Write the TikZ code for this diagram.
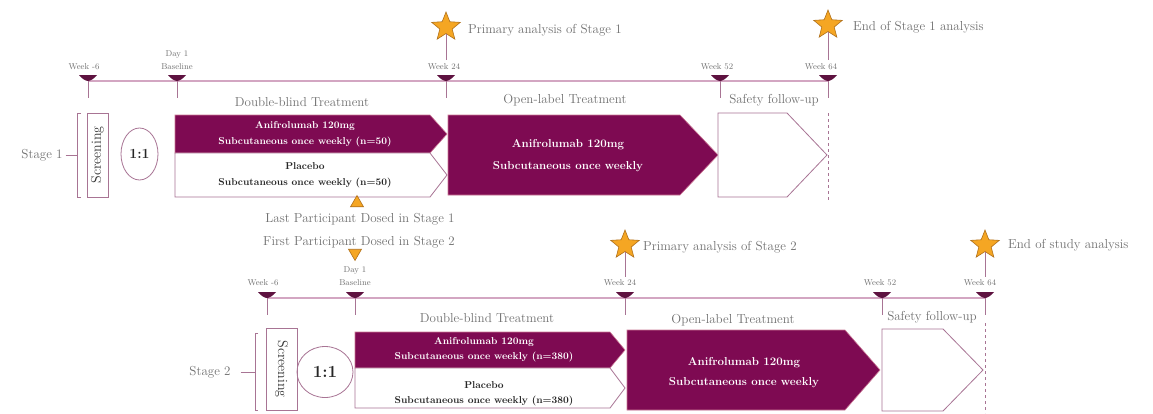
\documentclass[tikz,border=0pt]{standalone}
\usetikzlibrary{shapes.geometric}
\definecolor{plum}{HTML}{7E0A52}
\definecolor{tl}{HTML}{D3A6C2}
\definecolor{outl}{HTML}{A87494}
\definecolor{mk}{HTML}{5E1240}
\definecolor{gtxt}{HTML}{707070}
\definecolor{starf}{HTML}{F5A623}
\definecolor{stard}{HTML}{B0701A}
\begin{document}
\begin{tikzpicture}[x=1pt,y=-1pt,
  lbl/.style={text=gtxt,font=\fontsize{13}{15}\selectfont,inner sep=0pt},
  wk/.style={text=gtxt,font=\fontsize{8.5}{13}\selectfont,inner sep=0pt,align=center},
  fillbox/.style={fill=plum,draw=plum!40!pink,line width=0.6pt},
  whitebox/.style={fill=white,draw=outl,line width=0.8pt},
  wtxt/.style={text=white,font=\bfseries\fontsize{10}{16}\selectfont,align=center,inner sep=0pt},
  btxt/.style={text=black!85,font=\bfseries\fontsize{10}{16}\selectfont,align=center,inner sep=0pt},
  otxt/.style={text=white,font=\bfseries\fontsize{11.5}{22}\selectfont,align=center,inner sep=0pt},
  tline/.style={draw=tl,line width=1.5pt},
  tick/.style={draw=outl,line width=1pt},
  pics/tmk/.style={code={\fill[mk] (-9,-6) -- (9,-6) .. controls (6,-2) and (2,0) .. (0,0) .. controls (-2,0) and (-6,-2) .. (-9,-6) -- cycle;}},
  starnode/.style={star,star points=5,star point ratio=2.3,minimum size=30pt,inner sep=0pt,fill=starf,draw=stard,line width=0.6pt},
  otri/.style={regular polygon,regular polygon sides=3,minimum size=15pt,inner sep=0pt,fill=starf,draw=stard,line width=0.6pt},
  scr/.style={draw=outl,line width=0.8pt,fill=white,text=black!80,font=\fontsize{14}{16}\selectfont,inner sep=0pt},
  ratio/.style={ellipse,draw=outl,line width=0.8pt,inner sep=0pt,text=black!85}
]
\useasboundingbox[fill=white] (0,0) rectangle (1153,413);

% ================= STAGE 1 =================
\coordinate (a1) at (88,81);
\coordinate (a2) at (177,81);
\coordinate (a3) at (446,81);
\coordinate (a4) at (720,81);
\coordinate (a5) at (828,81);
\draw[tline] (a1) -- (a5);
\foreach \c in {a1,a2,a3,a4,a5}{\draw[tick] (\c) -- ++(0,17); \pic at (\c) {tmk};}
\node[wk] (la1) at (84,67) {Week -6};
\node[wk] (la2) at (177,60) {Day 1\\Baseline};
\node[wk] (la3) at (444,67) {Week 24};
\node[wk] (la4) at (717,67) {Week 52};
\node[wk] (la5) at (821,67) {Week 64};

\node[starnode] (s1) at (446,27) {};
\draw[tick] (s1.south) -- (446,60);
\node[lbl,anchor=west] (t1) at (468,30) {Primary analysis of Stage 1};
\node[starnode] (s2) at (828,25) {};
\draw[tick] (s2.south) -- (828,60);
\node[lbl,anchor=west] (t2) at (853,27) {End of Stage 1 analysis};

\node[lbl] (p1) at (302,102) {Double-blind Treatment};
\node[lbl] (p2) at (565,100) {Open-label Treatment};
\node[lbl] (p3) at (774,100) {Safety follow-up};

\draw[tick,dashed,dash pattern=on 3pt off 3pt] (828,113) -- (828,201);

% bracket and label
\node[lbl] (st1) at (42,155) {Stage 1};
\draw[tick] (81,113) -- (77,113) -- (77,197) -- (81,197);
\coordinate (b1) at (77,155);
\draw[tick] (st1.east) ++(3,0) -- (b1);
\node[scr,rotate=90,minimum width=84pt,minimum height=21pt] (scr1) at (97.5,155) {Screening};
\node[ratio,minimum width=37pt,minimum height=52pt,font=\bfseries\fontsize{14}{16}\selectfont] (r1) at (139.5,154) {1:1};

% boxes
\path[fillbox] (175,115) -- (430,115) -- (447,134) -- (430,153) -- (175,153) -- cycle;
\path[whitebox] (175,153) -- (430,153) -- (447,175) -- (430,197) -- (175,197) -- cycle;
\path[fillbox] (448,115) -- (680,115) -- (718,155) -- (680,195) -- (448,195) -- cycle;
\path[whitebox] (718,113) -- (787,113) -- (827,155) -- (787,197) -- (718,197) -- cycle;
\node[wtxt] (x1) at (305,134) {Anifrolumab 120mg\\Subcutaneous once weekly (n=50)};
\node[btxt] (x2) at (305,175) {Placebo\\Subcutaneous once weekly (n=50)};
\node[otxt] (x3) at (568,156) {Anifrolumab 120mg\\Subcutaneous once weekly};

% transition
\node[otri] (o1) at (357,203) {};
\node[lbl] (tr1) at (360,219) {Last Participant Dosed in Stage 1};
\node[lbl] (tr2) at (359,242) {First Participant Dosed in Stage 2};
\node[otri,shape border rotate=180] (o2) at (355,253) {};

% ================= STAGE 2 =================
\coordinate (c1) at (267,298);
\coordinate (c2) at (355,298);
\coordinate (c3) at (625,298);
\coordinate (c4) at (882,298);
\coordinate (c5) at (985,298);
\draw[tline] (c1) -- (c5);
\foreach \c in {c1,c2,c3,c4,c5}{\draw[tick] (\c) -- ++(0,17); \pic at (\c) {tmk};}
\node[wk] (lc1) at (263,283) {Week -6};
\node[wk] (lc2) at (355,276) {Day 1\\Baseline};
\node[wk] (lc3) at (620,283) {Week 24};
\node[wk] (lc4) at (880,283) {Week 52};
\node[wk] (lc5) at (980,283) {Week 64};

\node[starnode] (s3) at (625,245) {};
\draw[tick] (s3.south) -- (625,277);
\node[lbl,anchor=west] (t3) at (643,247) {Primary analysis of Stage 2};
\node[starnode] (s4) at (985,245) {};
\draw[tick] (s4.south) -- (985,277);
\node[lbl,anchor=west] (t4) at (1008,245) {End of study analysis};

\node[lbl] (q1) at (487,318) {Double-blind Treatment};
\node[lbl] (q2) at (733,320) {Open-label Treatment};
\node[lbl] (q3) at (932,317) {Safety follow-up};

\draw[tick,dashed,dash pattern=on 3pt off 3pt] (985,323) -- (985,413);

\node[lbl] (st2) at (210,372) {Stage 2};
\draw[tick] (258,333) -- (255,333) -- (255,410) -- (258,410);
\coordinate (b2) at (255,372);
\draw[tick] (st2.east) ++(10,0) -- (b2);
\node[scr,rotate=-90,minimum width=82pt,minimum height=31pt] (scr2) at (281.5,369) {Screening};
\node[ratio,minimum width=56pt,minimum height=51pt,font=\bfseries\fontsize{17}{19}\selectfont] (r2) at (325,372) {1:1};

\path[fillbox] (355,332) -- (610,332) -- (625,350) -- (610,368) -- (355,368) -- cycle;
\path[whitebox] (355,368) -- (610,368) -- (625,388) -- (610,408) -- (355,408) -- cycle;
\path[fillbox] (627,330) -- (845,330) -- (880,370) -- (845,410) -- (627,410) -- cycle;
\path[whitebox] (882,329) -- (943,329) -- (983,370) -- (943,411) -- (882,411) -- cycle;
\node[wtxt,font=\bfseries\fontsize{10}{15}\selectfont] (y1) at (484,350) {Anifrolumab 120mg\\Subcutaneous once weekly (n=380)};
\node[btxt,font=\bfseries\fontsize{10}{15}\selectfont] (y2) at (484,394) {Placebo\\Subcutaneous once weekly (n=380)};
\node[otxt,font=\bfseries\fontsize{11.5}{20}\selectfont] (y3) at (744,373) {Anifrolumab 120mg\\Subcutaneous once weekly};
\end{tikzpicture}
\end{document}
